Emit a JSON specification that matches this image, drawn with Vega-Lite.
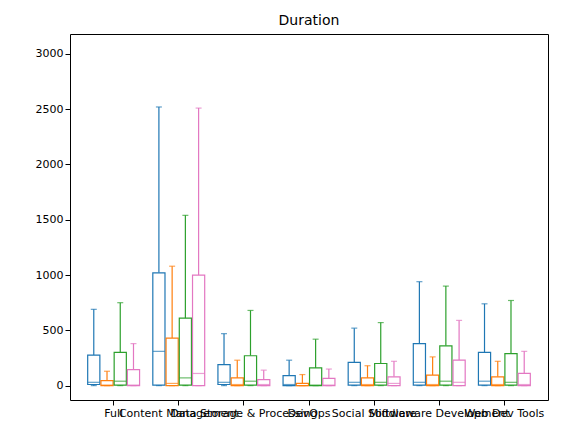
{
  "$schema": "https://vega.github.io/schema/vega-lite/v6.json",
  "width": 478,
  "height": 366,
  "padding": {"left": 70, "top": 34, "right": 24, "bottom": 35},
  "autosize": "none",
  "title": {"text": "Duration", "fontSize": 14, "fontWeight": "normal", "font": "DejaVu Sans", "offset": 6},
  "config": {
    "font": "DejaVu Sans",
    "view": {"stroke": "black"},
    "axis": {"labelFontSize": 11, "labelColor": "black", "tickColor": "black", "domain": false, "grid": false, "title": null, "labelFont": "DejaVu Sans"}
  },
  "data": {"values": [
    {"cat": "Full", "s": "A", "min": 0, "q1": 10, "med": 30, "q3": 275, "max": 690},
    {"cat": "Full", "s": "B", "min": 0, "q1": 0, "med": 5, "q3": 45, "max": 130},
    {"cat": "Full", "s": "C", "min": 0, "q1": 5, "med": 40, "q3": 300, "max": 750},
    {"cat": "Full", "s": "D", "min": 0, "q1": 0, "med": 5, "q3": 145, "max": 380},
    {"cat": "Content Management", "s": "A", "min": 0, "q1": 5, "med": 310, "q3": 1020, "max": 2520},
    {"cat": "Content Management", "s": "B", "min": 0, "q1": 0, "med": 20, "q3": 430, "max": 1080},
    {"cat": "Content Management", "s": "C", "min": 0, "q1": 5, "med": 70, "q3": 610, "max": 1540},
    {"cat": "Content Management", "s": "D", "min": 0, "q1": 0, "med": 110, "q3": 1000, "max": 2510},
    {"cat": "Data Storage & Processing", "s": "A", "min": 0, "q1": 10, "med": 30, "q3": 190, "max": 470},
    {"cat": "Data Storage & Processing", "s": "B", "min": 0, "q1": 0, "med": 10, "q3": 70, "max": 230},
    {"cat": "Data Storage & Processing", "s": "C", "min": 0, "q1": 5, "med": 40, "q3": 270, "max": 680},
    {"cat": "Data Storage & Processing", "s": "D", "min": 0, "q1": 0, "med": 10, "q3": 55, "max": 140},
    {"cat": "DevOps", "s": "A", "min": 0, "q1": 0, "med": 10, "q3": 90, "max": 230},
    {"cat": "DevOps", "s": "B", "min": 0, "q1": 0, "med": 0, "q3": 20, "max": 100},
    {"cat": "DevOps", "s": "C", "min": 0, "q1": 0, "med": 5, "q3": 160, "max": 420},
    {"cat": "DevOps", "s": "D", "min": 0, "q1": 0, "med": 5, "q3": 65, "max": 150},
    {"cat": "Social Software", "s": "A", "min": 0, "q1": 5, "med": 30, "q3": 210, "max": 520},
    {"cat": "Social Software", "s": "B", "min": 0, "q1": 0, "med": 10, "q3": 70, "max": 180},
    {"cat": "Social Software", "s": "C", "min": 0, "q1": 5, "med": 30, "q3": 200, "max": 570},
    {"cat": "Social Software", "s": "D", "min": 0, "q1": 0, "med": 20, "q3": 80, "max": 220},
    {"cat": "Middleware Development", "s": "A", "min": 0, "q1": 5, "med": 30, "q3": 380, "max": 940},
    {"cat": "Middleware Development", "s": "B", "min": 0, "q1": 0, "med": 10, "q3": 95, "max": 260},
    {"cat": "Middleware Development", "s": "C", "min": 0, "q1": 5, "med": 40, "q3": 360, "max": 900},
    {"cat": "Middleware Development", "s": "D", "min": 0, "q1": 0, "med": 30, "q3": 230, "max": 590},
    {"cat": "Web Dev Tools", "s": "A", "min": 0, "q1": 5, "med": 40, "q3": 300, "max": 740},
    {"cat": "Web Dev Tools", "s": "B", "min": 0, "q1": 0, "med": 10, "q3": 80, "max": 220},
    {"cat": "Web Dev Tools", "s": "C", "min": 0, "q1": 5, "med": 30, "q3": 290, "max": 770},
    {"cat": "Web Dev Tools", "s": "D", "min": 0, "q1": 0, "med": 10, "q3": 110, "max": 310}
  ]},
  "encoding": {
    "x": {"field": "cat", "type": "nominal", "sort": null,
      "scale": {"paddingInner": 0, "paddingOuter": 0.17},
      "axis": {"labelAngle": 0, "labelLimit": 1000, "labelOverlap": false, "labelBound": false, "labelFlush": false}},
    "xOffset": {"field": "s", "type": "nominal", "scale": {"paddingOuter": 0.5, "paddingInner": 0.08}},
    "color": {"field": "s", "type": "nominal", "legend": null,
      "scale": {"range": ["#1f77b4", "#ff7f0e", "#2ca02c", "#e377c2"]}}
  },
  "layer": [
    {"mark": {"type": "rule", "strokeWidth": 1.2},
     "encoding": {"y": {"field": "q3", "type": "quantitative",
        "scale": {"domain": [-130, 3180], "nice": false, "zero": false},
        "axis": {"values": [0, 500, 1000, 1500, 2000, 2500, 3000], "format": "d"}},
      "y2": {"field": "max"}}},
    {"mark": {"type": "bar", "fill": "white", "strokeWidth": 1.2},
     "encoding": {"y": {"field": "q1", "type": "quantitative"}, "y2": {"field": "q3"},
       "stroke": {"field": "s", "type": "nominal", "legend": null, "scale": {"range": ["#1f77b4", "#ff7f0e", "#2ca02c", "#e377c2"]}},
       "color": {"value": "white"}}},
    {"mark": {"type": "rule", "strokeWidth": 1.2},
     "encoding": {"y": {"field": "min", "type": "quantitative"}, "y2": {"field": "q1"}}},
    {"mark": {"type": "tick", "thickness": 1.2, "size": 12},
     "encoding": {"y": {"field": "med", "type": "quantitative"}}},
    {"mark": {"type": "tick", "thickness": 1.2, "size": 6},
     "encoding": {"y": {"field": "max", "type": "quantitative"}}},
    {"mark": {"type": "tick", "thickness": 1.2, "size": 6},
     "encoding": {"y": {"field": "min", "type": "quantitative"}}}
  ]
}
